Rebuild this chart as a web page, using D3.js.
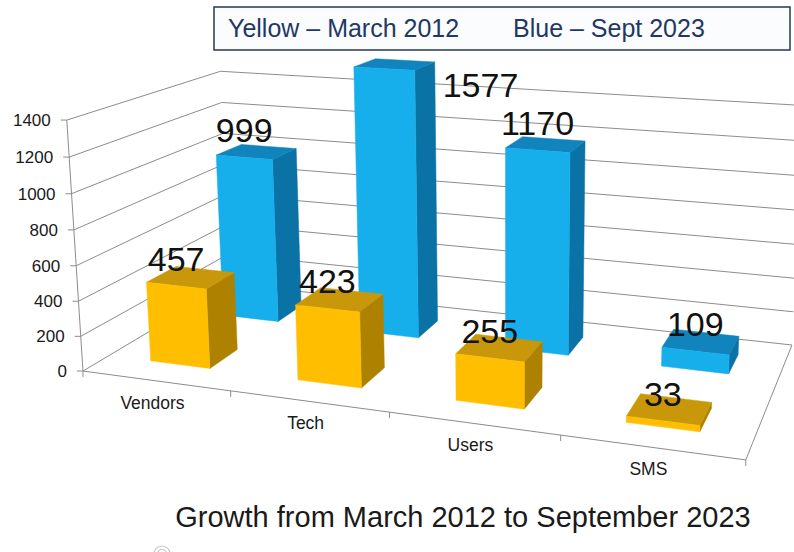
<!DOCTYPE html>
<html>
<head>
<meta charset="utf-8">
<script src="https://cdn.jsdelivr.net/npm/d3@7"></script>
<style>
  html, body { margin: 0; padding: 0; background: #ffffff; }
  svg { display: block; }
  text { font-family: "Liberation Sans", Arial, sans-serif; }
</style>
</head>
<body>
<svg id="chart" width="794" height="552"></svg>
<script>
// ---- data ----
const categories = ["Vendors", "Tech", "Users", "SMS"];
const march2012 = [457, 423, 255, 33];
const sept2023 = [999, 1577, 1170, 109];
const seriesKeys = ["march2012", "sept2023"];
const legendLabels = ["Yellow \u2013 March 2012", "Blue \u2013 Sept 2023"];
const valueTicks = [0, 200, 400, 600, 800, 1000, 1200, 1400];
const titleText = "Growth from March 2012 to September 2023";

// ---- styles ----
const faceColors = {
  march2012: { front: "#FFBF00", side: "#AE8200", top: "#C8970A" },
  sept2023:  { front: "#16AFEB", side: "#0B72A5", top: "#1183BD" }
};
const gridColor = "#8c8c8c";
const textColor = "#1a1a1a";
const legendColor = "#1F3864";

// ---- 3-D view: pinhole camera looking down on the plot box ----
const deg = Math.PI / 180;
const view = { focal: 1457, px: 510, py: 133, pitch: 12 * deg, yaw: 18.27 * deg,
               eye: 1, x0: -0.797, z0: 2.5676 };
const box = { W: 1.238, D: 0.555, H: 0.478 };

function project(x, y, z) {
  const sa = Math.sin(view.yaw), ca = Math.cos(view.yaw);
  const X = view.x0 + x * ca + z * sa;
  const Z = view.z0 - x * sa + z * ca;
  const Y = y - view.eye;
  const sp = Math.sin(view.pitch), cp = Math.cos(view.pitch);
  const up = Y * cp + Z * sp;
  const depth = -Y * sp + Z * cp;
  return [view.px + view.focal * X / depth, view.py - view.focal * up / depth];
}
const pathOf = pts => "M" + pts.map(p => project(p[0], p[1], p[2]).map(v => v.toFixed(2)).join(",")).join("L");
const polyOf = pts => pathOf(pts) + "Z";

// ---- scales ----
const xBand = d3.scaleBand().domain(categories).range([0, box.W]).paddingInner(0.59).paddingOuter(0.295);
const zBand = d3.scaleBand().domain(seriesKeys).range([0, box.D]).paddingInner(0.62).paddingOuter(0.31);
const yScale = d3.scaleLinear().domain([0, 1400]).range([0, box.H]);
const slot = d3.scaleBand().domain(categories).range([0, box.W]);

const svg = d3.select("#chart");
const W = box.W, D = box.D;

// ---- walls and floor ----
const walls = svg.append("g");
walls.append("path").attr("d", polyOf([[0,0,0],[0,0,D],[0,yScale(1400),D],[0,yScale(1400),0]]))
  .attr("fill", "#ffffff");
walls.append("path").attr("d", polyOf([[0,0,D],[W,0,D],[W,yScale(1400),D],[0,yScale(1400),D]]))
  .attr("fill", "#ffffff");

// gridlines run along the side wall then across the back wall
walls.selectAll("path.grid").data(valueTicks).join("path")
  .attr("class", "grid")
  .attr("d", t => pathOf([[0, yScale(t), 0], [0, yScale(t), D], [W, yScale(t), D]]))
  .attr("fill", "none").attr("stroke", gridColor).attr("stroke-width", 1);

// value axis
walls.append("path").attr("d", pathOf([[0,0,0],[0,yScale(1400),0]]))
  .attr("stroke", gridColor).attr("stroke-width", 1).attr("fill", "none");
walls.selectAll("path.vtick").data(valueTicks).join("path")
  .attr("class", "vtick")
  .attr("d", t => { const p = project(0, yScale(t), 0); return `M${p[0]-6},${p[1]}L${p[0]},${p[1]}`; })
  .attr("stroke", gridColor).attr("stroke-width", 1);

// floor edges and category boundary ticks
walls.append("path").attr("d", pathOf([[0,0,0],[W,0,0],[W,0,D]]))
  .attr("fill", "none").attr("stroke", gridColor).attr("stroke-width", 1);
const bounds = categories.map(c => slot(c)).concat([W]);
walls.selectAll("path.ctick").data(bounds).join("path")
  .attr("class", "ctick")
  .attr("d", b => { const p = project(b, 0, 0); return `M${p[0]},${p[1]}L${p[0]},${p[1]+6}`; })
  .attr("stroke", gridColor).attr("stroke-width", 1);

// value tick labels
svg.append("g").selectAll("text").data(valueTicks).join("text")
  .attr("x", t => project(0, yScale(t), 0)[0] - 16)
  .attr("y", t => project(0, yScale(t), 0)[1])
  .attr("dy", "0.35em")
  .attr("text-anchor", "end")
  .attr("font-size", 17)
  .attr("fill", textColor)
  .text(t => t);

// category labels under the front edge
svg.append("g").selectAll("text").data(categories).join("text")
  .attr("x", c => project(slot(c) + slot.bandwidth() / 2, 0, 0)[0] - 3)
  .attr("y", c => project(slot(c) + slot.bandwidth() / 2, 0, 0)[1] + 28)
  .attr("text-anchor", "middle")
  .attr("font-size", 17.5)
  .attr("fill", textColor)
  .text(c => c);

// ---- bars: back row first, left to right ----
const seriesValues = { march2012, sept2023 };
const bars = [];
["sept2023", "march2012"].forEach(key => {
  categories.forEach((c, i) => {
    bars.push({ key, cat: c, value: seriesValues[key][i] });
  });
});

const barLayer = svg.append("g");
bars.forEach(b => {
  const x0 = xBand(b.cat), x1 = x0 + xBand.bandwidth();
  const z0 = zBand(b.key), z1 = z0 + zBand.bandwidth();
  const h = yScale(b.value);
  const col = faceColors[b.key];
  const g = barLayer.append("g");
  g.append("path").attr("d", polyOf([[x1,0,z0],[x1,0,z1],[x1,h,z1],[x1,h,z0]]))
    .attr("fill", col.side).attr("stroke", col.side).attr("stroke-width", 0.5);
  g.append("path").attr("d", polyOf([[x0,h,z0],[x1,h,z0],[x1,h,z1],[x0,h,z1]]))
    .attr("fill", col.top).attr("stroke", col.top).attr("stroke-width", 0.5);
  g.append("path").attr("d", polyOf([[x0,0,z0],[x1,0,z0],[x1,h,z0],[x0,h,z0]]))
    .attr("fill", col.front).attr("stroke", col.front).attr("stroke-width", 0.5);
});

// ---- legend box ----
const legend = svg.append("g");
const legendBox = { x: 214, y: 7, w: 576, h: 43 };
legend.append("rect")
  .attr("x", legendBox.x).attr("y", legendBox.y)
  .attr("width", legendBox.w).attr("height", legendBox.h)
  .attr("fill", "#fbfcfe").attr("stroke", "#26374d").attr("stroke-width", 1.5);
legend.selectAll("text").data(legendLabels).join("text")
  .attr("x", (d, i) => [228, 513][i])
  .attr("y", 37)
  .attr("font-size", 25)
  .attr("fill", legendColor)
  .text(d => d);

// ---- value labels above each bar ----
const labelLayer = svg.append("g");
const labelSize = 34;
bars.forEach(b => {
  const x0 = xBand(b.cat), x1 = x0 + xBand.bandwidth();
  const xc = (x0 + x1) / 2;
  const z0 = zBand(b.key), z1 = z0 + zBand.bandwidth();
  const h = yScale(b.value);
  const p = project(xc, h, z0);
  let x = p[0], y = p[1] - 15, anchor = "middle";
  // no headroom under the legend box: set the label beside the bar top
  if (y - labelSize * 0.72 < legendBox.y + legendBox.h + 3) {
    const side = project(x1, h, z1);
    x = side[0] + 8;
    y = project(x1, h, z0)[1] + 27;
    anchor = "start";
  }
  labelLayer.append("text")
    .attr("x", x).attr("y", y)
    .attr("text-anchor", anchor)
    .attr("font-size", labelSize)
    .attr("fill", "#111111")
    .text(b.value);
});

// ---- title ----
svg.append("text")
  .attr("x", 463).attr("y", 527)
  .attr("text-anchor", "middle")
  .attr("font-size", 29)
  .attr("fill", textColor)
  .text(titleText);

// small round badge at the lower left
const badge = svg.append("g").attr("fill", "none").attr("stroke", "#c4c4c4").attr("stroke-width", 1.2);
badge.append("circle").attr("cx", 162).attr("cy", 554).attr("r", 8);
badge.append("circle").attr("cx", 162).attr("cy", 554).attr("r", 4.5);
</script>
</body>
</html>
